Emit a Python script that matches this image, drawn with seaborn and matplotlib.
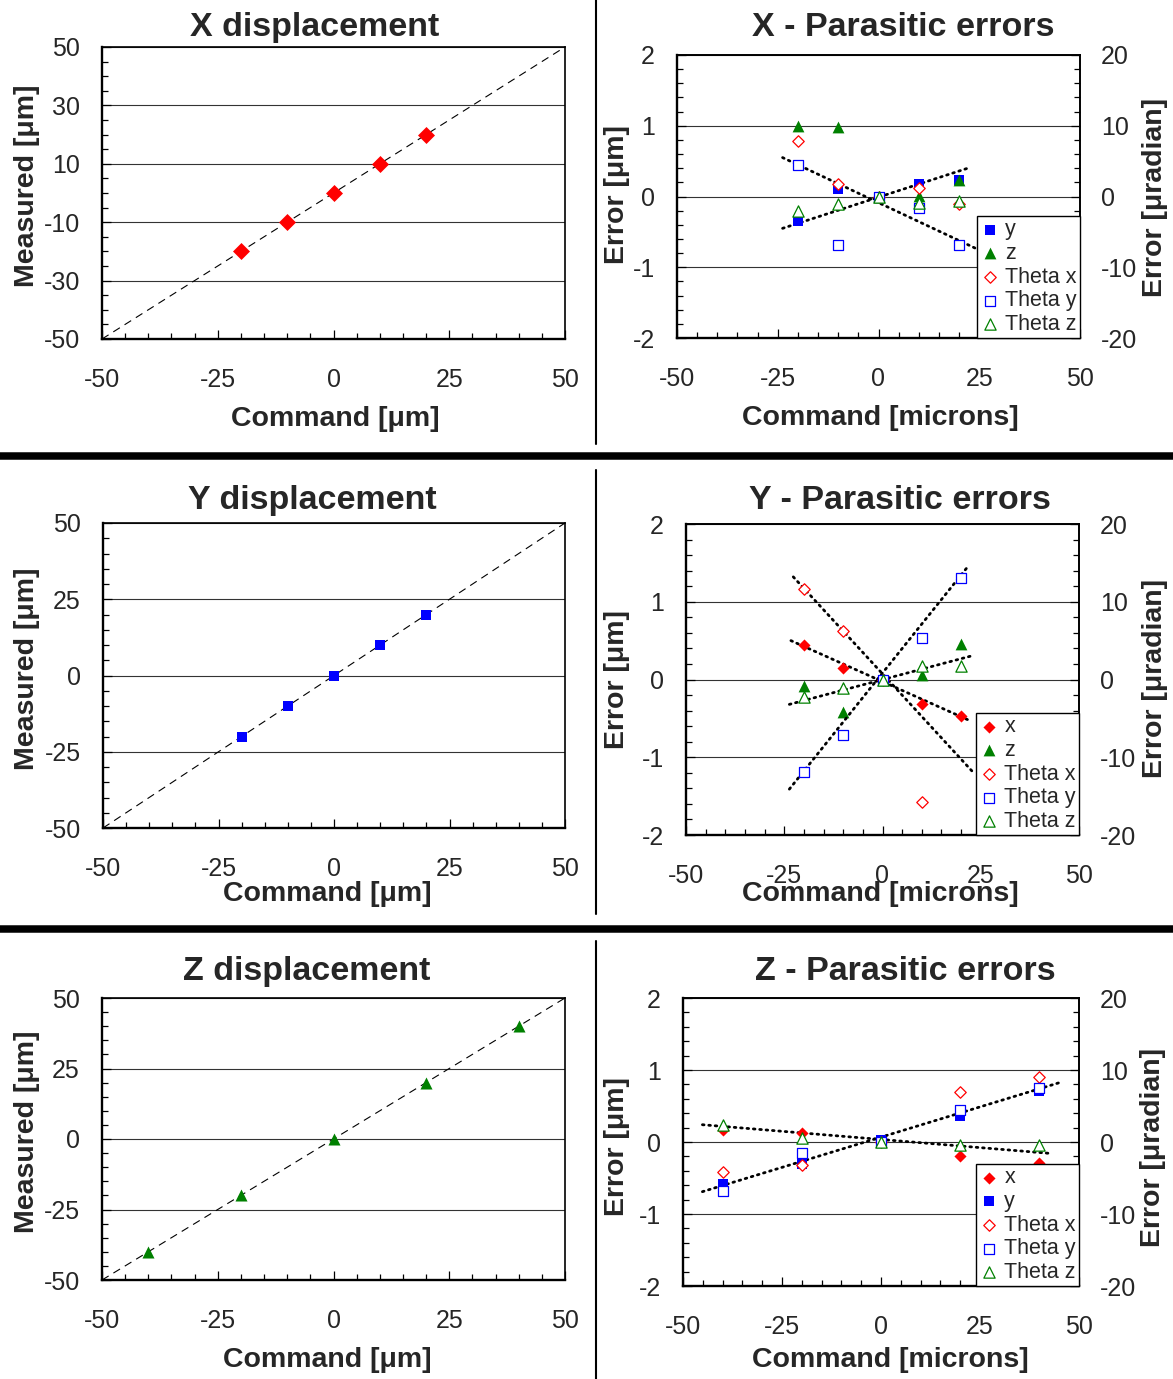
"""Stage calibration figure: commanded vs measured displacement and the
parasitic errors of the X, Y and Z axes (3 x 2 panels)."""

import matplotlib
matplotlib.use("Agg")

import matplotlib.pyplot as plt
import numpy as np
import seaborn as sns
from matplotlib.lines import Line2D
from matplotlib.ticker import MultipleLocator

# ---------------------------------------------------------------------------
# Data
# ---------------------------------------------------------------------------

cmd_xy = [-20, -10, 0, 10, 20]          # commanded X / Y moves [um]
cmd_z = [-40, -20, 0, 20, 40]           # commanded Z moves [um]

meas_x = [-20, -10, 0, 10, 20]          # measured [um]
meas_y = [-20, -10, 0, 10, 20]
meas_z = [-40, -20, 0, 20, 40]

ideal_cmd = [-50, 50]                   # 1:1 reference line
ideal_meas = [-50, 50]

# X move: linear errors [um] and angular errors [urad]
xpar_y = [-0.35, 0.10, 0.0, 0.17, 0.24]
xpar_z = [0.99, 0.98, 0.0, 0.01, 0.23]
xpar_thx = [7.9, 1.8, 0.0, 1.2, -1.0]
xpar_thy = [4.4, -6.9, 0.0, -1.6, -6.9]
xpar_thz = [-2.1, -1.0, 0.0, -0.9, -0.6]
xfit_y_cmd, xfit_y = [-23.8, 22.7], [-0.45, 0.41]
xfit_thy_cmd, xfit_thy = [-23.8, 24.0], [5.5, -7.3]

# Y move
ypar_x = [0.44, 0.15, 0.0, -0.32, -0.47]
ypar_z = [-0.09, -0.42, 0.0, 0.06, 0.46]
ypar_thx = [11.7, 6.3, 0.0, -15.7, np.nan]
ypar_thy = [-11.9, -7.2, 0.0, 5.4, 13.1]
ypar_thz = [-2.3, -1.1, 0.0, 1.8, 1.8]
yfit_x_cmd, yfit_x = [-23.3, 22.7], [0.50, -0.54]
yfit_thx_cmd, yfit_thx = [-22.7, 23.0], [13.2, -11.9]
yfit_thy_cmd, yfit_thy = [-23.7, 22.0], [-14.1, 14.7]
yfit_thz_cmd, yfit_thz = [-23.7, 22.4], [-3.2, 3.0]

# Z move
zpar_x = [0.17, 0.125, 0.0, -0.20, -0.29]
zpar_y = [-0.59, -0.30, 0.03, 0.36, 0.71]
zpar_thx = [-4.1, -3.2, 0.0, 6.9, 9.0]
zpar_thy = [-6.8, -1.5, 0.0, 4.4, 7.5]
zpar_thz = [2.3, 0.6, 0.0, -0.4, -0.4]
zfit_y_cmd, zfit_y = [-45.1, 44.8], [-0.69, 0.82]
zfit_x_cmd, zfit_x = [-45.1, 43.1], [0.24, -0.16]

# Ticks
cmd_ticks = [-50, -25, 0, 25, 50]
meas_ticks_x = [-50, -30, -10, 10, 30, 50]
meas_ticks = [-50, -25, 0, 25, 50]
err_ticks = [-2, -1, 0, 1, 2]
ang_ticks = [-20, -10, 0, 10, 20]

# ---------------------------------------------------------------------------
# Style
# ---------------------------------------------------------------------------

sns.set_style("ticks")
plt.rcParams["font.family"] = ["Liberation Sans", "DejaVu Sans"]
plt.rcParams["axes.unicode_minus"] = False

RED, BLUE, GREEN = "#ff0000", "#0000ff", "#008000"
TICK_FS, LABEL_FS, TITLE_FS, LEGEND_FS = 18, 20.5, 24.5, 15.5

W, H = 1173, 1379
fig = plt.figure(figsize=(W / 100, H / 100), dpi=100)


def add_axes(box):
    l, t, r, b = box
    return fig.add_axes([l / W, 1 - b / H, (r - l) / W, (b - t) / H])


def frac(box, px, py):
    """Pixel position -> axes fraction for a panel box."""
    l, t, r, b = box
    return (px - l) / (r - l), (b - py) / (b - t)


def style_ax(ax, box, yticks, yminor, title, title_xy, xlabel, xlabel_xy,
             ylabel, ylabel_xy):
    ax.set_xlim(-50, 50)
    ax.set_ylim(yticks[0], yticks[-1])
    ax.set_xticks(cmd_ticks, [str(t) for t in cmd_ticks])
    ax.set_yticks(yticks, [str(t) for t in yticks])
    ax.xaxis.set_minor_locator(MultipleLocator(5))
    ax.yaxis.set_minor_locator(MultipleLocator(yminor))
    ax.tick_params(which="both", direction="in", top=False, right=False,
                   labelsize=TICK_FS, width=0.9, color="black")
    ax.tick_params(which="major", length=6.5)
    ax.tick_params(which="minor", length=4.5)
    ax.tick_params(axis="x", pad=21)
    ax.tick_params(axis="y", pad=16)
    ax.grid(axis="y", which="major", color="#333333", lw=0.8)
    for side, sp in ax.spines.items():
        sp.set_color("black")
        sp.set_linewidth(1.7 if side in ("left", "bottom") else 1.2)

    tx, ty = frac(box, *title_xy)
    ax.set_title(title, x=tx, y=ty, va="center", pad=0,
                 fontsize=TITLE_FS, fontweight="bold")
    ax.set_xlabel(xlabel, fontsize=LABEL_FS, fontweight="bold", va="center")
    ax.xaxis.set_label_coords(*frac(box, *xlabel_xy))
    ax.set_ylabel(ylabel, fontsize=LABEL_FS, fontweight="bold", va="center")
    ax.yaxis.set_label_coords(*frac(box, *ylabel_xy))


def add_twin(ax, box, ylabel_xy):
    ax2 = ax.twinx()
    ax2.set_ylim(ang_ticks[0], ang_ticks[-1])
    ax2.set_yticks(ang_ticks, [str(t) for t in ang_ticks])
    ax2.yaxis.set_minor_locator(MultipleLocator(2))
    ax2.tick_params(which="both", direction="in", labelsize=TICK_FS,
                    width=0.9, pad=15, color="black")
    ax2.tick_params(which="major", length=6.5)
    ax2.tick_params(which="minor", length=4.5)
    ax2.grid(False)
    for sp in ax2.spines.values():
        sp.set_color("black")
        sp.set_linewidth(1.2)
    ax2.set_ylabel("Error [μradian]", fontsize=LABEL_FS, fontweight="bold",
                   va="center")
    ax2.yaxis.set_label_coords(*frac(box, *ylabel_xy))
    return ax2


def dotted(ax, x, y):
    sns.lineplot(x=x, y=y, ax=ax, color="black", lw=2.0,
                 linestyle=(0, (0.6, 1.7)), sort=False, errorbar=None,
                 dash_capstyle="round")


def filled(ax, x, y, marker, color, size, label):
    sns.scatterplot(x=x, y=y, ax=ax, marker=marker, color=color, s=size,
                    linewidth=0, label=label, legend=False, zorder=3)


def hollow(ax, x, y, marker, color, size, label):
    sns.scatterplot(x=x, y=y, ax=ax, marker=marker, color=color,
                    facecolor="white", edgecolor=color, s=size, linewidth=0.9,
                    label=label, legend=False, zorder=3)


def legend(ax, ax2):
    h1, l1 = ax.get_legend_handles_labels()
    h2, l2 = ax2.get_legend_handles_labels()
    leg = ax2.legend(h1 + h2, l1 + l2, loc="lower right", fontsize=LEGEND_FS,
                     frameon=True, fancybox=False, framealpha=1,
                     edgecolor="black", borderaxespad=0, borderpad=0.15,
                     handlelength=0.9, handletextpad=0.25, labelspacing=0.12,
                     scatterpoints=1, markerscale=1.0)
    leg.get_frame().set_linewidth(1.0)


# ---------------------------------------------------------------------------
# Left column: commanded vs measured
# ---------------------------------------------------------------------------

BOX_TL = (102, 47, 565, 339)
BOX_ML = (103, 523, 565, 828)
BOX_BL = (102, 998, 565, 1280)

left_panels = [
    (BOX_TL, cmd_xy, meas_x, "D", RED, 75, meas_ticks_x, "X displacement",
     (315, 27), (335, 419), (27, 186)),
    (BOX_ML, cmd_xy, meas_y, "s", BLUE, 58, meas_ticks, "Y displacement",
     (312, 500), (327, 894), (27, 669)),
    (BOX_BL, cmd_z, meas_z, "^", GREEN, 75, meas_ticks, "Z displacement",
     (307, 971), (327, 1360), (27, 1132)),
]

for (box, cx, my, mk, col, sz, yt, title, t_xy, xl_xy, yl_xy) in left_panels:
    ax = add_axes(box)
    sns.lineplot(x=ideal_cmd, y=ideal_meas, ax=ax, color="black", lw=0.8,
                 linestyle=(0, (7, 5)), errorbar=None)
    filled(ax, cx, my, mk, col, sz, None)
    style_ax(ax, box, yt, 5, title, t_xy, "Command [μm]", xl_xy,
             "Measured [μm]", yl_xy)

# ---------------------------------------------------------------------------
# Right column: parasitic errors
# ---------------------------------------------------------------------------

BOX_TR = (677, 55, 1080, 338)
BOX_MR = (686, 524, 1079, 835)
BOX_BR = (683, 998, 1079, 1286)

# X move
ax = add_axes(BOX_TR)
ax2 = add_twin(ax, BOX_TR, (1155, 197))
dotted(ax, xfit_y_cmd, xfit_y)
dotted(ax2, xfit_thy_cmd, xfit_thy)
filled(ax, cmd_xy, xpar_y, "s", BLUE, 62, "y")
filled(ax, cmd_xy, xpar_z, "^", GREEN, 72, "z")
hollow(ax2, cmd_xy, xpar_thx, "D", RED, 34, "Theta x")
hollow(ax2, cmd_xy, xpar_thy, "s", BLUE, 56, "Theta y")
hollow(ax2, cmd_xy, xpar_thz, "^", GREEN, 66, "Theta z")
style_ax(ax, BOX_TR, err_ticks, 0.2, "X - Parasitic errors", (903, 27),
         "Command [microns]", (880, 418), "Error [μm]", (617, 194))
ax2.set_ylim(ang_ticks[0], ang_ticks[-1])
legend(ax, ax2)

# Y move
ax = add_axes(BOX_MR)
ax2 = add_twin(ax, BOX_MR, (1155, 678))
dotted(ax, yfit_x_cmd, yfit_x)
dotted(ax2, yfit_thx_cmd, yfit_thx)
dotted(ax2, yfit_thy_cmd, yfit_thy)
dotted(ax2, yfit_thz_cmd, yfit_thz)
filled(ax, cmd_xy, ypar_x, "D", RED, 38, "x")
filled(ax, cmd_xy, ypar_z, "^", GREEN, 72, "z")
hollow(ax2, cmd_xy, ypar_thx, "D", RED, 34, "Theta x")
hollow(ax2, cmd_xy, ypar_thy, "s", BLUE, 56, "Theta y")
hollow(ax2, cmd_xy, ypar_thz, "^", GREEN, 66, "Theta z")
style_ax(ax, BOX_MR, err_ticks, 0.2, "Y - Parasitic errors", (900, 500),
         "Command [microns]", (880, 894), "Error [μm]", (617, 679))
ax2.set_ylim(ang_ticks[0], ang_ticks[-1])
legend(ax, ax2)

# Z move
ax = add_axes(BOX_BR)
ax2 = add_twin(ax, BOX_BR, (1153, 1147))
dotted(ax, zfit_y_cmd, zfit_y)
dotted(ax, zfit_x_cmd, zfit_x)
filled(ax, cmd_z, zpar_x, "D", RED, 38, "x")
filled(ax, cmd_z, zpar_y, "s", BLUE, 62, "y")
hollow(ax2, cmd_z, zpar_thx, "D", RED, 34, "Theta x")
hollow(ax2, cmd_z, zpar_thy, "s", BLUE, 56, "Theta y")
hollow(ax2, cmd_z, zpar_thz, "^", GREEN, 66, "Theta z")
style_ax(ax, BOX_BR, err_ticks, 0.2, "Z - Parasitic errors", (905, 972),
         "Command [microns]", (890, 1360), "Error [μm]", (617, 1146))
ax2.set_ylim(ang_ticks[0], ang_ticks[-1])
legend(ax, ax2)

# ---------------------------------------------------------------------------
# Panel separators
# ---------------------------------------------------------------------------

for y_px in (455.5, 929):
    fig.add_artist(Line2D([0, 1], [1 - y_px / H] * 2, color="black", lw=5.4,
                          transform=fig.transFigure))
for y0, y1 in ((0, 444), (470, 914), (941, H)):
    fig.add_artist(Line2D([596 / W] * 2, [1 - y0 / H, 1 - y1 / H],
                          color="black", lw=1.5, transform=fig.transFigure))

fig.savefig("out.png", dpi=100)
